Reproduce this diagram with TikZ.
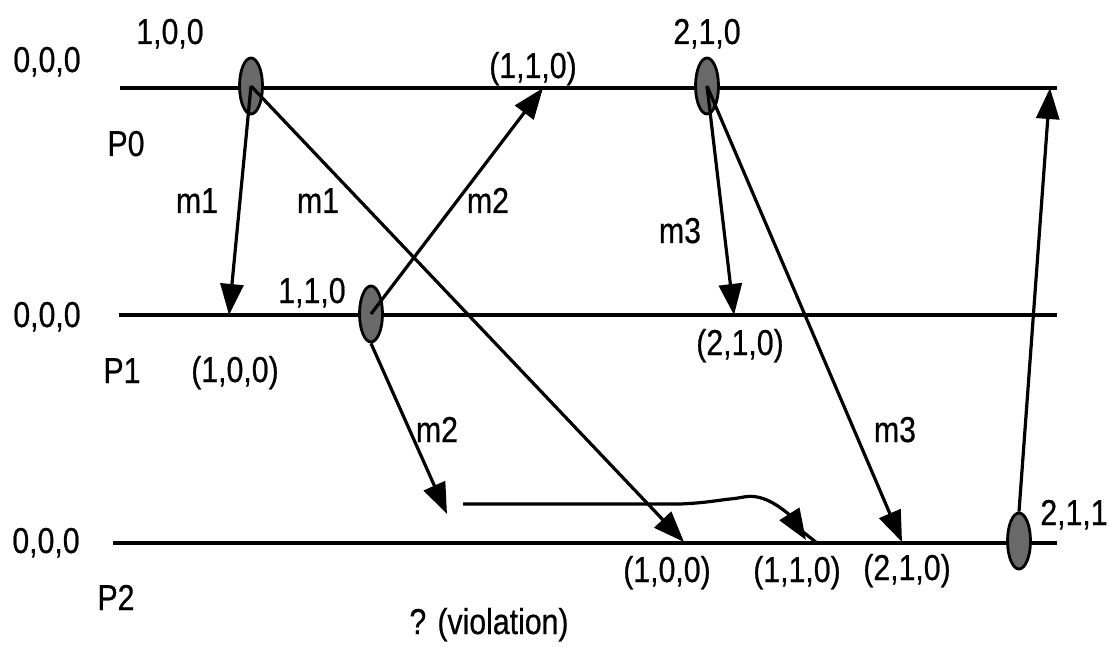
\documentclass[tikz,border=0pt]{standalone}
\usepackage{fontspec}
\setmainfont{Liberation Sans}[FakeStretch=0.84,FakeBold=0.6]
\usetikzlibrary{arrows.meta,shapes.geometric}
\definecolor{evgray}{RGB}{105,105,105}
\tikzset{
  proc/.style={line width=3.6pt},
  msg/.style={line width=3.2pt,-{Triangle[length=31pt,width=23pt]}},
  ev/.style={ellipse,draw,line width=2.8pt,fill=evgray,minimum width=23pt,minimum height=56pt,inner sep=0pt},
  lbl/.style={anchor=base,inner sep=0pt,font=\fontsize{36}{40}\selectfont}
}
\begin{document}
\begin{tikzpicture}[x=1pt,y=-1pt]
\useasboundingbox (0,0) rectangle (1109,647);
% process lines
\coordinate (p0s) at (120,88);  \coordinate (p0e) at (1057,88);
\coordinate (p1s) at (119,315); \coordinate (p1e) at (1057,315);
\coordinate (p2s) at (113,543); \coordinate (p2e) at (1057,543);
\draw[proc] (p0s) -- (p0e);
\draw[proc] (p1s) -- (p1e);
\draw[proc] (p2s) -- (p2e);
% events
\node[ev] (e1) at (251,86) {};
\node[ev] (e2) at (371,314) {};
\node[ev] (e3) at (707,86) {};
\node[ev] (e4) at (1019,541) {};
% receive points
\coordinate (r1) at (229,315);
\coordinate (r2) at (684,542);
\coordinate (r3) at (543,88);
\coordinate (r4) at (447,514);
\coordinate (r5) at (734,315);
\coordinate (r6) at (902,542);
\coordinate (r7) at (1050,88);
% messages
\draw[msg] (e1.center) -- (r1);
\draw[msg] (e1.center) -- (r2);
\draw[msg] (e2.center) -- (r3);
\draw[msg] (e2.south) -- (r4);
\draw[msg] (e3.center) -- (r5);
\draw[msg] (e3.center) -- (r6);
\draw[msg] (e4.north) -- (r7);
% delayed m2 path
\coordinate (d0) at (463,504);
\coordinate (d1) at (680,504);
\coordinate (d2) at (757,497);
\coordinate (d3) at (806,540);
\coordinate (d4) at (817,543);
\draw[msg] (d0) -- (d1) .. controls (705,503) and (720,500) .. (730,499)
  .. controls (742,498) and (748,495) .. (d2) .. controls (775,500) and (792,518) .. (d3);
\draw[line width=3.2pt] (793,524) -- (d4);
% labels
\node[lbl] (t00) at (47,72) {0,0,0};
\node[lbl] (t01) at (47,327) {0,0,0};
\node[lbl] (t02) at (46,553) {0,0,0};
\node[lbl] (tp0) at (126,156) {P0};
\node[lbl] (tp1) at (122,383) {P1};
\node[lbl] (tp2) at (116,610) {P2};
\node[lbl] (ta) at (170,44) {1,0,0};
\node[lbl] (tb) at (707,44) {2,1,0};
\node[lbl] (tc) at (533,78) {(1,1,0)};
\node[lbl] (tm1a) at (197,213) {m1};
\node[lbl] (tm1b) at (318,213) {m1};
\node[lbl] (tm2a) at (488,213) {m2};
\node[lbl] (tm3a) at (680,243) {m3};
\node[lbl] (td) at (312,303) {1,1,0};
\node[lbl] (te) at (740,355) {(2,1,0)};
\node[lbl] (tf) at (235,382) {(1,0,0)};
\node[lbl] (tm2b) at (437,442) {m2};
\node[lbl] (tm3b) at (895,442) {m3};
\node[lbl] (tg) at (667,582) {(1,0,0)};
\node[lbl] (th) at (797,582) {(1,1,0)};
\node[lbl] (ti) at (907,580) {(2,1,0)};
\node[lbl] (tj) at (1074,525) {2,1,1};
\node[lbl] (tk) at (489,634) {? (violation)};
\end{tikzpicture}
\end{document}
